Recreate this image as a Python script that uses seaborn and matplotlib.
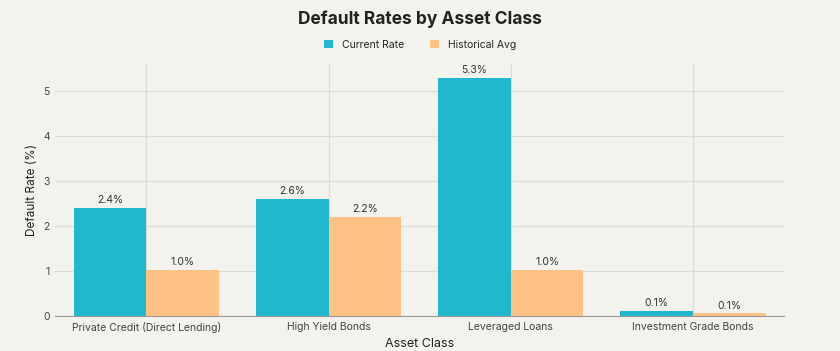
import pandas as pd
import matplotlib.pyplot as plt
import seaborn as sns

# Data
asset_classes = ['Private Credit (Direct Lending)', 'High Yield Bonds',
                 'Leveraged Loans', 'Investment Grade Bonds']
current_rate = [2.4, 2.6, 5.3, 0.12]
historical_avg = [1.03, 2.2, 1.03, 0.06]
current_labels = ['2.4%', '2.6%', '5.3%', '0.1%']
historical_labels = ['1.0%', '2.2%', '1.0%', '0.1%']

df = pd.DataFrame({
    'Asset Class': asset_classes * 2,
    'Default Rate': current_rate + historical_avg,
    'Series': ['Current Rate'] * 4 + ['Historical Avg'] * 4,
})

bg = '#f3f2ec'
sns.set_theme(style='whitegrid')
plt.rcParams['font.family'] = ['Inter', 'DejaVu Sans']

fig, ax = plt.subplots(figsize=(8.4, 3.51), dpi=100)
fig.patch.set_facecolor(bg)
ax.set_facecolor(bg)

sns.barplot(data=df, x='Asset Class', y='Default Rate', hue='Series',
            palette=['#1fb8cd', '#ffc185'], width=0.8, saturation=1,
            edgecolor='none', ax=ax)

for cont, labels in zip(ax.containers, [current_labels, historical_labels]):
    ax.bar_label(cont, labels=labels, padding=2, fontsize=7.5, color='#333333')

ax.set_xlim(-0.5, 3.5)
ax.set_ylim(0, 5.6)
ax.set_yticks([0, 1, 2, 3, 4, 5])
ax.grid(True, color='#dcdcd6', linewidth=0.8)
ax.set_axisbelow(True)
for s in ['top', 'right', 'left']:
    ax.spines[s].set_visible(False)
ax.spines['bottom'].set_color('#999999')
ax.spines['bottom'].set_linewidth(0.8)
ax.tick_params(axis='both', length=0, labelsize=7.5, labelcolor='#444444', pad=4)

fig.suptitle('Default Rates by Asset Class', fontsize=12.5, fontweight='bold',
             color='#222222', x=0.5, y=0.945, va='center')
ax.set_xlabel('Asset Class', fontsize=9, color='#222222')
ax.set_ylabel('Default Rate (%)', fontsize=8.5, color='#222222')

ax.legend(loc='center', bbox_to_anchor=(0.5, 1 - 45 / 351),
          bbox_transform=fig.transFigure, ncol=2, frameon=False,
          fontsize=7.5, handlelength=0.9, handleheight=0.8, columnspacing=2.5)

plt.subplots_adjust(left=0.066, right=0.933, top=1 - 64 / 351, bottom=1 - 316 / 351)
plt.savefig('out.png', dpi=100, facecolor=bg)
